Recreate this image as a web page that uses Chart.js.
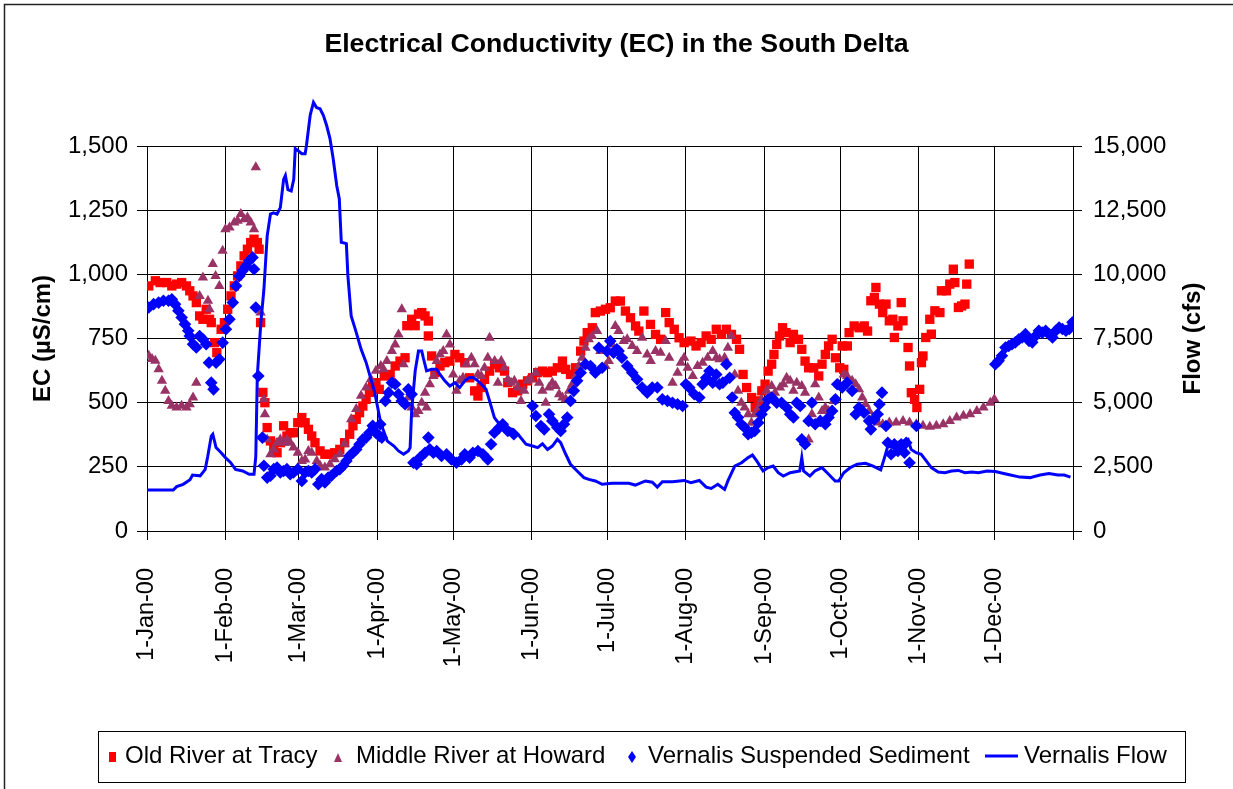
<!DOCTYPE html>
<html>
<head>
<meta charset="utf-8">
<title>Electrical Conductivity (EC) in the South Delta</title>
<script src="https://cdn.jsdelivr.net/npm/chart.js@4.4.1/dist/chart.umd.min.js"></script>
<style>
  html, body { margin: 0; padding: 0; background: #fff; }
  #wrap { width: 1233px; height: 789px; }
</style>
</head>
<body>
<div id="wrap"><canvas id="ecChart" width="1233" height="789"></canvas></div>
<script>
// Day of year 2000 (0 = 1-Jan-00) and the value read for that day

const monthDays = [0, 31, 60, 91, 121, 152, 182, 213, 244, 274, 305, 335, 366];
const monthLabels = ['1-Jan-00', '1-Feb-00', '1-Mar-00', '1-Apr-00', '1-May-00', '1-Jun-00',
  '1-Jul-00', '1-Aug-00', '1-Sep-00', '1-Oct-00', '1-Nov-00', '1-Dec-00', ''];
const ecTicks = [0, 250, 500, 750, 1000, 1250, 1500];
const flowTicks = [0, 2500, 5000, 7500, 10000, 12500, 15000];

// Old River at Tracy (EC, uS/cm)
const tracyPoints = [
  [0.7,955],[3.3,975],[5.2,968],[7.8,968],[9.8,955],[11.7,962],[13.7,968],[15.6,955],[16.9,936],[18.2,916],
  [19.5,890],[20.8,838],[22.1,825],[23.4,864],[24.7,825],[25.4,812],[26.7,734],[27.6,695],[29.3,786],[30.6,812],
  [31.9,864],[33.2,916],[34.5,955],[35.8,994],[37.1,1033],[38.4,1072],[39.7,1098],[41,1124],[42.3,1137],[43.6,1124],
  [44.3,1098],[44.9,812],[45.8,540],[46.6,500],[47.5,403],[48.8,351],[50.1,318],[51.4,305],[52.7,344],[54,410],
  [55.3,370],[56.6,383],[57.9,383],[59.6,422],[61.2,442],[62.5,422],[63.8,396],[65.1,370],[66.4,344],[68.4,312],
  [70.3,299],[72.3,299],[74.2,305],[76.2,318],[78.1,344],[80.1,377],[81.4,410],[82.7,435],[84,461],[85.3,487],
  [86.6,513],[87.9,540],[89.2,572],[90.5,578],[91.8,552],[93.8,604],[96.1,610],[98.1,643],[100,662],[102,675],
  [102.7,800],[104.6,825],[106,800],[107.3,845],[108.6,851],[109.9,838],[111.2,818],[111.2,760],[112.5,682],[113.8,617],
  [115.8,643],[117.7,656],[119.7,662],[121.7,688],[123.6,675],[125.6,656],[127.5,597],[129.5,546],[130.8,526],[132.1,559],
  [133.4,591],[135.4,623],[137.4,650],[139.3,636],[141.3,623],[142.6,578],[144.5,539],[146.5,546],[148.5,572],[150.4,585],
  [152.4,597],[154.4,617],[156.3,623],[158.3,617],[160.2,623],[162.2,636],[164.2,662],[165.5,630],[167.4,610],[169.4,636],
  [171.4,701],[172.7,740],[174,773],[176,792],[177.2,851],[179.2,857],[181.2,864],[183.1,870],[185.1,896],[187.1,896],
  [189.1,857],[191.1,831],[193.1,799],[194.4,779],[196.4,857],[199,805],[201,766],[203,747],[205,851],[206.4,812],
  [208.4,786],[210.3,753],[212.3,734],[215,740],[217,721],[219,734],[221,760],[223,747],[225,786],[227,766],
  [229,786],[231,766],[233,747],[234.2,708],[235.6,610],[237,559],[239,520],[240.4,481],[241.6,507],[243,546],
  [244.3,572],[245.5,623],[246.9,650],[247.8,688],[248.9,727],[250,760],[251.2,792],[252.6,773],[254.2,734],[255.5,766],
  [257.5,747],[258.8,708],[260.1,662],[261.5,636],[263.5,636],[265.5,604],[266.8,650],[268.1,688],[269.4,721],[270.8,747],
  [272.1,675],[273.8,636],[274.8,721],[275.4,630],[276.8,721],[277.5,773],[279.5,799],[281.5,792],[283.5,799],[284.8,779],
  [286.1,897],[287.5,910],[288.1,949],[289.5,884],[290.8,851],[292.1,884],[293.4,819],[294.8,825],[295.4,754],[296.8,799],
  [298.1,890],[298.8,819],[300.8,715],[301.4,643],[302.1,539],[303.4,513],[304.3,481],[305.4,552],[306.1,656],[306.7,682],
  [307.8,754],[309.4,825],[310,767],[311.4,858],[313.4,851],[314,936],[316,936],[317.3,962],[318.7,1020],[319.3,968],
  [320.7,871],[322,877],[323.3,884],[324,962],[325,1040]
];

// Middle River at Howard (EC, uS/cm)
const howardPoints = [
  [0.7,683],[2,670],[3.3,663],[4.6,630],[5.9,585],[7.2,546],[8.5,507],[9.8,488],[11.7,481],[13.7,488],
  [15.6,481],[16.9,494],[18.2,520],[19.5,578],[20.8,916],[22.1,988],[24.1,897],[24.7,864],[26,1040],[27.1,994],
  [28.6,955],[29.9,1092],[31,1176],[32.6,1183],[34.5,1202],[35.8,1209],[37.1,1235],[38.4,1215],[39.7,1222],[41,1202],
  [42.3,1176],[43,1417],[44.9,851],[46.2,513],[46.6,455],[47.5,357],[48.8,299],[50.1,318],[51.4,344],[52.7,357],
  [54,344],[55.3,357],[56.6,344],[57.9,325],[59.6,305],[61.2,273],[62.5,279],[63.8,312],[65.1,305],[67.1,273],
  [68.4,254],[70.3,247],[72.3,260],[74.2,280],[76.2,300],[78.1,340],[80.7,435],[82.7,475],[84.6,527],[86.6,559],
  [88.5,591],[90.5,624],[92.4,643],[93.5,630],[94.8,662],[96.8,701],[98.1,727],[99.4,766],[100.7,864],[101.4,650],
  [103.3,520],[104.6,481],[106,455],[107.3,468],[108.6,500],[109.9,539],[110.5,481],[111.8,572],[113.2,604],[114.5,662],
  [115.8,688],[117.1,701],[118.4,766],[119.7,727],[121,610],[122.3,546],[123.6,585],[124.9,597],[126.2,650],[128.2,675],
  [129.5,650],[130.8,610],[132.1,604],[133.4,636],[134.7,675],[135.4,753],[137.4,662],[138.7,578],[140,662],[141.3,636],
  [142.6,591],[143.9,578],[145.2,585],[146.5,559],[147.8,507],[149.1,546],[150.4,585],[151.7,591],[153.7,617],[155,578],
  [156.3,546],[157.6,500],[158.9,559],[160.2,578],[161.5,565],[162.9,533],[164.2,520],[165.5,513],[166.8,546],[168.1,572],
  [169.4,604],[170.7,643],[172,675],[173.3,714],[174.6,747],[175.9,760],[177.9,779],[179.2,701],[181.2,643],[182.5,662],
  [183.8,727],[185.1,799],[186.4,779],[188.4,740],[189.8,747],[191.8,721],[193.7,701],[195.7,753],[197.7,688],[199.1,662],
  [201,701],[203,695],[205,740],[206.4,675],[207.7,578],[209.7,617],[211,656],[212.3,675],[213.7,636],[215.7,604],
  [217.6,643],[219.6,656],[221.6,675],[223.6,701],[225,675],[226.3,669],[228.3,675],[229.6,714],[230.9,760],[232.3,610],
  [233.6,546],[234.9,500],[236.2,481],[237.6,455],[238.9,422],[240.2,455],[241.6,481],[242.9,513],[244.9,546],[246.9,565],
  [248.2,539],[250.2,559],[251.5,572],[252.8,597],[254.2,585],[255.5,546],[256.8,578],[258.8,565],[260.1,539],[261.5,357],
  [262.8,455],[264.1,572],[265.5,520],[266.8,468],[268.1,481],[269.4,468],[271.4,507],[273.4,572],[275.4,610],[276.7,604],
  [278.7,585],[280.1,572],[281.4,552],[282.7,520],[284,494],[285.4,468],[286.8,442],[288.8,423],[290.8,416],[293.4,423],
  [296.1,423],[298.8,429],[301.4,423],[304.1,416],[306.7,410],[309.4,406],[312,410],[314.7,416],[317.3,429],[320,442],
  [322.7,449],[325.3,455],[328,468],[330.6,481],[333.3,500],[334.9,513]
];

// Vernalis Suspended Sediment (EC, uS/cm)
const sedimentPoints = [
  [0.7,871],[2.6,884],[4.6,890],[6.5,897],[8.5,897],[9.8,903],[11.1,884],[12.4,858],[13.7,832],[15,806],
  [16.3,780],[16.9,760],[18.2,728],[19.5,715],[20.8,760],[22.1,747],[23.4,728],[24.5,656],[25.4,578],[26.3,552],
  [27.3,656],[28.6,669],[29.9,734],[31.2,786],[32.6,825],[33.9,890],[35.2,955],[36.5,994],[37.8,1014],[39.1,1033],
  [40.4,1053],[41.7,1066],[42.3,1020],[43,871],[44,604],[45.6,364],[46.2,254],[47.5,208],[48.8,215],[50.1,241],
  [51.4,247],[52.7,228],[54,234],[55.3,241],[56.6,221],[57.9,228],[59.6,241],[61.2,195],[62.5,228],[63.8,234],
  [65.1,228],[66.4,241],[67.7,182],[69,202],[70.3,189],[71.6,208],[72.9,215],[74.9,234],[76.2,241],[77.5,254],
  [78.8,273],[80.1,293],[81.4,305],[82.7,318],[84,338],[85.3,357],[86.6,364],[87.9,383],[89.2,410],[90.5,383],
  [91.8,370],[92.2,416],[92.8,364],[94.2,507],[95.5,539],[96.8,578],[98.1,572],[99.4,533],[100.7,507],[102,494],
  [103.3,552],[104.6,533],[105.3,266],[106.6,260],[107.9,286],[109.9,305],[111.2,364],[111.8,318],[113.2,305],[114.5,312],
  [116.4,292],[118.4,299],[120.3,279],[122.3,266],[124.3,279],[125.6,299],[127.5,286],[128.8,305],[130.8,312],[132.8,299],
  [134.7,279],[136,338],[137.3,383],[139.3,403],[140.6,416],[142.6,390],[145,377],[152.4,487],[153.7,448],[155.7,409],
  [157,396],[158.9,455],[160.2,429],[162.2,403],[163.5,390],[164.8,416],[166.1,442],[167.4,507],[168.7,546],[170,585],
  [171.4,617],[173.3,650],[175.3,643],[177.2,617],[178.6,714],[179.9,636],[181.8,701],[183.1,740],[184.4,695],[185.7,708],
  [186.4,701],[187.7,675],[189.8,643],[191.8,617],[193.7,591],[195.7,559],[197.7,539],[199.7,559],[201.7,559],[203.7,513],
  [205.7,507],[207.7,500],[209.7,494],[211.7,487],[213,572],[214.3,559],[216.3,533],[218.3,520],[219.6,572],[221,597],
  [222.3,623],[223.6,578],[225,610],[226.3,572],[227.6,578],[229,650],[230.3,597],[231.3,520],[232.3,461],[233.6,442],
  [234.9,416],[236.2,403],[237.6,377],[238.9,383],[240.2,390],[241.6,422],[242.9,455],[244.2,481],[245.5,513],[246.9,520],
  [248.9,500],[250.8,500],[252.8,481],[254.2,455],[255.5,442],[256.8,500],[258.2,487],[258.8,357],[260.1,338],[261.5,429],
  [262.8,500],[264.1,416],[266.1,429],[268.1,416],[269.4,442],[270.8,468],[272.1,513],[272.8,572],[274.8,559],[276.7,578],
  [278.7,546],[280.1,455],[281.4,481],[283.4,461],[285.4,429],[286.1,396],[287.5,435],[288.8,455],[289.5,494],[290.5,539],
  [292.1,409],[292.8,344],[294.1,299],[295.4,338],[296.8,312],[298.1,338],[299.4,305],[300.1,344],[301.4,266],[304.1,409],
  [335.3,650],[336.6,663],[337.9,683],[339.3,715],[340.6,721],[341.9,728],[343.2,735],[344.6,747],[345.9,754],[347.2,767],
  [348.6,741],[349.9,735],[351.2,760],[352.5,780],[353.9,773],[355.2,780],[356.5,767],[357.9,754],[359.2,780],[360.5,793],
  [361.8,787],[363.2,780],[364.5,787],[365.8,813]
];

// Vernalis Flow (cfs, right axis)
const flowPoints = [
  [0,1600],[10.4,1600],[11.7,1730],[14.3,1820],[17,2000],[18,2180],[21,2150],[23,2400],[24,2900],[25.4,3700],
  [26,3770],[27.3,3250],[29.3,3050],[31,2860],[33,2670],[35,2400],[37.8,2340],[40.4,2210],[42.3,2210],[43,2900],
  [43.6,6050],[45,8120],[46.2,9400],[47.5,11500],[48.8,12350],[50,12400],[51.4,12350],[52.7,12600],[54,13700],[54.7,13850],
  [55.7,13300],[57,13250],[58,13700],[58.6,14900],[59.6,14830],[61.2,14700],[62.5,14700],[63,15000],[64.5,16200],[65.8,16700],
  [67,16500],[68.4,16450],[69.7,16200],[71,15800],[72.3,15300],[73.6,14500],[75,13450],[76,12950],[76.8,11250],[78.8,11200],
  [79.4,9950],[80.7,8380],[82.7,7740],[84.6,7090],[86.6,6570],[88.5,5920],[90,5400],[92.4,4200],[95,3500],[97.6,3310],
  [99.4,3120],[101.4,2990],[103.3,3120],[104,3250],[104.6,4680],[106,6240],[107.3,7010],[108.6,7010],[109.2,6750],[110.5,6240],
  [112.5,6300],[114.5,6300],[115.8,6100],[117.7,5850],[119.7,5650],[121.7,5780],[123.6,5590],[125.6,5850],[127.5,5980],[128.8,5980],
  [130.8,5850],[132.8,5650],[134,5520],[135.4,5070],[137.3,4420],[139.3,4160],[141.9,4030],[144.5,3960],[147.2,3700],[149.8,3380],
  [152.4,3310],[154.4,3250],[156.3,3400],[158.3,3180],[160.2,3310],[162.2,3570],[163.5,3440],[165.5,2990],[167.4,2600],[170,2340],
  [172.7,2080],[174.6,2010],[177.2,1950],[179.9,1820],[183.8,1860],[190.4,1860],[193,1790],[197,1950],[199.7,1900],[201.7,1710],
  [203.7,1920],[207.7,1920],[212.3,1970],[215,1880],[218.3,1970],[221,1710],[223,1660],[225.6,1820],[228.3,1620],[229.6,1950],
  [232.3,2530],[235,2660],[237.6,2860],[239.3,2960],[241,2730],[243.5,2340],[245.5,2470],[247.5,2530],[249.5,2270],[251.5,2140],
  [254.2,2270],[258,2340],[258.8,2860],[259.5,2340],[262,2140],[264,2340],[266.8,2470],[269.4,2210],[272,1950],[273.4,1950],
  [275.4,2270],[278,2470],[280.7,2600],[284,2640],[287,2530],[290,2380],[291.5,2860],[292.8,3310],[294.8,3250],[296.8,3440],
  [298,3250],[299.4,3510],[300.8,3570],[302,3180],[304,3050],[306,2990],[308,2730],[310,2470],[312.7,2300],[315.4,2270],
  [318,2340],[320.7,2360],[323.3,2270],[326,2300],[328.6,2270],[332,2340],[335.3,2320],[338.6,2240],[341.3,2180],[345,2100],
  [349,2080],[353,2180],[356.5,2240],[360,2180],[362.5,2180],[365,2100]
];

const FONT = '"Liberation Sans", Arial, sans-serif';
const RED = '#FF0000';
const MAROON = '#993366';
const BLUE = '#0000FF';

Chart.defaults.font.family = FONT;
Chart.defaults.color = '#000';

function toXY(points) {
  return points.map(p => ({ x: p[0], y: p[1] }));
}

function formatNumber(v) {
  return Number(v).toLocaleString('en-US');
}

// Frame, legend box and the right axis title (read bottom-to-top like Excel)
const decorPlugin = {
  id: 'decor',
  beforeDraw(chart) {
    const ctx = chart.ctx;
    ctx.save();
    ctx.fillStyle = '#fff';
    ctx.fillRect(0, 0, chart.width, chart.height);
    ctx.restore();
  },
  afterDraw(chart) {
    const ctx = chart.ctx;
    const area = chart.chartArea;
    ctx.save();

    // outer chart frame (only top and left are inside the picture)
    ctx.strokeStyle = '#222';
    ctx.lineWidth = 1.5;
    ctx.beginPath();
    ctx.moveTo(4.5, chart.height);
    ctx.lineTo(4.5, 4.5);
    ctx.lineTo(chart.width, 4.5);
    ctx.stroke();

    // right axis title
    ctx.fillStyle = '#000';
    ctx.font = 'bold 24px ' + FONT;
    ctx.textAlign = 'center';
    ctx.textBaseline = 'middle';
    ctx.translate(1193, (area.top + area.bottom) / 2);
    ctx.rotate(-Math.PI / 2);
    ctx.fillText('Flow (cfs)', 0, 0);
    ctx.restore();

    // legend
    ctx.save();
    ctx.strokeStyle = '#000';
    ctx.lineWidth = 1;
    ctx.strokeRect(98.5, 731.5, 1087, 51);
    ctx.font = '24px ' + FONT;
    ctx.fillStyle = '#000';
    ctx.textBaseline = 'alphabetic';
    ctx.textAlign = 'left';
    const baseY = 763;

    ctx.fillStyle = RED;
    ctx.fillRect(109, 752, 7, 10);
    ctx.fillStyle = '#000';
    ctx.fillText('Old River at Tracy', 125, baseY);

    ctx.fillStyle = MAROON;
    ctx.beginPath();
    ctx.moveTo(338, 753);
    ctx.lineTo(342, 762);
    ctx.lineTo(334, 762);
    ctx.closePath();
    ctx.fill();
    ctx.fillStyle = '#000';
    ctx.fillText('Middle River at Howard', 356, baseY);

    ctx.fillStyle = BLUE;
    ctx.beginPath();
    ctx.moveTo(632, 751);
    ctx.lineTo(636, 757);
    ctx.lineTo(632, 763);
    ctx.lineTo(628, 757);
    ctx.closePath();
    ctx.fill();
    ctx.fillStyle = '#000';
    ctx.fillText('Vernalis Suspended Sediment', 648, baseY);

    ctx.strokeStyle = BLUE;
    ctx.lineWidth = 3;
    ctx.beginPath();
    ctx.moveTo(985, 756);
    ctx.lineTo(1018, 756);
    ctx.stroke();
    ctx.fillText('Vernalis Flow', 1024, baseY);
    ctx.restore();
  }
};

const ctx = document.getElementById('ecChart');

new Chart(ctx, {
  type: 'scatter',
  data: {
    datasets: [
      {
        label: 'Vernalis Flow',
        type: 'line',
        data: toXY(flowPoints),
        yAxisID: 'y1',
        borderColor: BLUE,
        backgroundColor: BLUE,
        borderWidth: 3,
        pointRadius: 0,
        tension: 0,
        fill: false,
        clip: false,
        order: 0
      },
      {
        label: 'Vernalis Suspended Sediment',
        data: toXY(sedimentPoints),
        yAxisID: 'y',
        pointStyle: 'rectRot',
        pointRadius: 6.3,
        backgroundColor: BLUE,
        borderColor: BLUE,
        borderWidth: 0,
        order: 1
      },
      {
        label: 'Middle River at Howard',
        data: toXY(howardPoints),
        yAxisID: 'y',
        pointStyle: 'triangle',
        pointRadius: 6,
        backgroundColor: MAROON,
        borderColor: MAROON,
        borderWidth: 0,
        order: 2
      },
      {
        label: 'Old River at Tracy',
        data: toXY(tracyPoints),
        yAxisID: 'y',
        pointStyle: 'rect',
        pointRadius: 6.6,
        backgroundColor: RED,
        borderColor: RED,
        borderWidth: 0,
        order: 3
      }
    ]
  },
  options: {
    responsive: false,
    animation: false,
    devicePixelRatio: 1,
    layout: { padding: 0 },
    plugins: {
      legend: { display: false },
      tooltip: { enabled: false },
      title: {
        display: true,
        text: 'Electrical Conductivity (EC) in the South Delta',
        color: '#000',
        font: { size: 26.7, weight: 'bold' },
        padding: { top: 29, bottom: 85 }
      }
    },
    scales: {
      x: {
        type: 'linear',
        min: monthDays[0],
        max: monthDays[monthDays.length - 1],
        afterBuildTicks: (scale) => {
          scale.ticks = monthDays.map(v => ({ value: v }));
        },
        afterFit: (scale) => { scale.height = 258; },
        grid: { color: '#000', lineWidth: 1, tickLength: 9 },
        border: { color: '#000', width: 1 },
        ticks: {
          autoSkip: false,
          minRotation: 90,
          maxRotation: 90,
          padding: 28,
          color: '#000',
          font: { size: 23.5 },
          callback: (value) => {
            const i = monthDays.indexOf(value);
            return i >= 0 ? monthLabels[i] : '';
          }
        }
      },
      y: {
        position: 'left',
        min: ecTicks[0],
        max: ecTicks[ecTicks.length - 1],
        afterBuildTicks: (scale) => {
          scale.ticks = ecTicks.map(v => ({ value: v }));
        },
        afterFit: (scale) => { scale.width = 147; },
        grid: { color: '#000', lineWidth: 1, tickLength: 10 },
        border: { color: '#000', width: 1 },
        ticks: {
          padding: 9,
          color: '#000',
          font: { size: 24 },
          callback: (value) => formatNumber(value)
        },
        title: {
          display: true,
          text: 'EC (µS/cm)',
          color: '#000',
          font: { size: 24, weight: 'bold' },
          padding: { top: 29, bottom: 0 }
        }
      },
      y1: {
        position: 'right',
        min: flowTicks[0],
        max: flowTicks[flowTicks.length - 1],
        afterBuildTicks: (scale) => {
          scale.ticks = flowTicks.map(v => ({ value: v }));
        },
        afterFit: (scale) => { scale.width = 160; },
        grid: { drawOnChartArea: false, color: '#000', lineWidth: 1, tickLength: 9 },
        border: { color: '#000', width: 1 },
        ticks: {
          padding: 11,
          color: '#000',
          font: { size: 24 },
          callback: (value) => formatNumber(value)
        }
      }
    }
  },
  plugins: [decorPlugin]
});
</script>
</body>
</html>
